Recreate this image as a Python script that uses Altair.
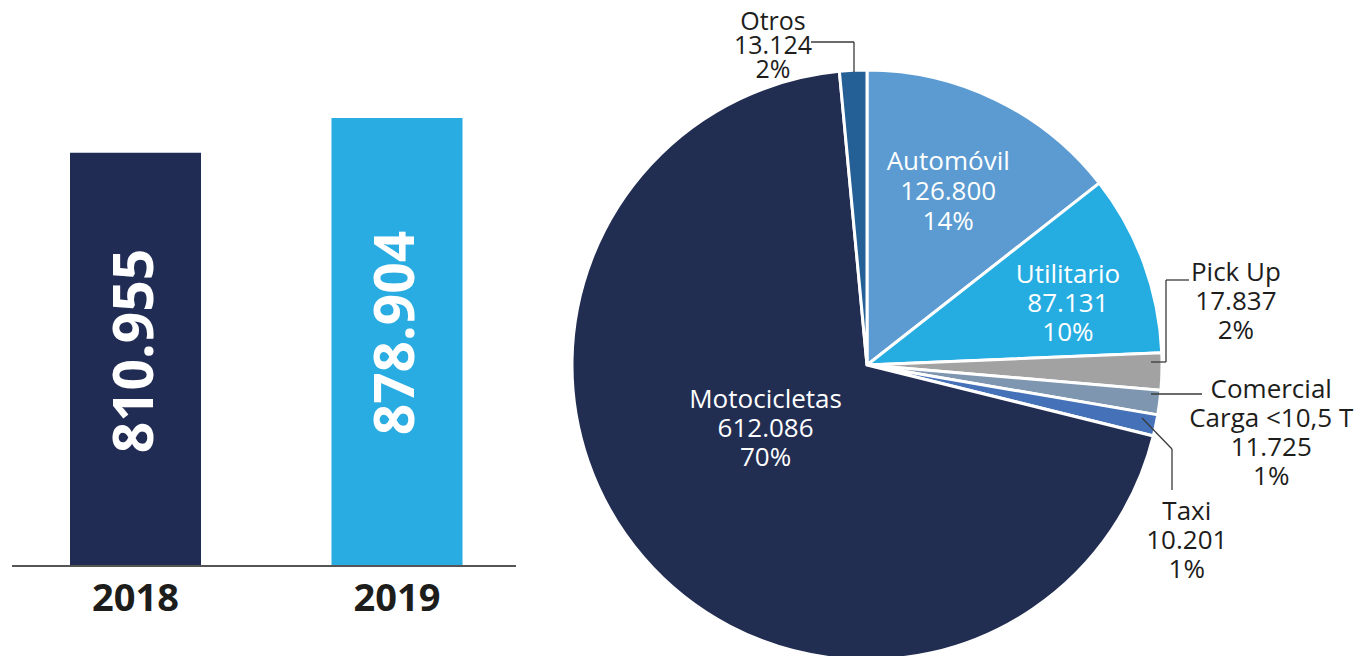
import altair as alt
import numpy as np
import pandas as pd

# ---------------- data ----------------
years = ["2018", "2019"]
year_totals = [810955, 878904]
year_colors = ["#212C55", "#29ACE2"]

categories = ["Automóvil", "Utilitario", "Pick Up", "Comercial", "Taxi", "Motocicletas", "Otros"]
display_names = ["Automóvil", "Utilitario", "Pick Up", "Comercial\nCarga <10,5 T", "Taxi", "Motocicletas", "Otros"]
cat_values = [126800, 87131, 17837, 11725, 10201, 612086, 13124]
cat_percents = [14, 10, 2, 1, 1, 70, 2]
cat_colors = ["#5B9BD1", "#25ADE2", "#A2A2A2", "#7E96B0", "#4571B9", "#222D52", "#246095"]

FONT = "Open Sans"


def fmt(v):
    return f"{v:,}".replace(",", ".")


# ---------------- bar chart ----------------
bar_df = pd.DataFrame({"year": years, "value": year_totals,
                       "label": [fmt(v) for v in year_totals]})

band = alt.Scale(range=[62, 454.5], paddingInner=0.499, paddingOuter=0)
xenc = alt.X("year:N", title=None, scale=band,
             axis=alt.Axis(labelFont=FONT, labelFontWeight="bold", labelFontSize=38,
                           labelColor="#1d1d1b", labelAngle=0, ticks=False, tickSize=0,
                           domain=False, labelPadding=14))
yscale = alt.Scale(domain=[0, 1095000])

bars = alt.Chart(bar_df).mark_bar().encode(
    x=xenc,
    y=alt.Y("value:Q", scale=yscale, axis=None),
    color=alt.Color("year:N", scale=alt.Scale(domain=years, range=year_colors), legend=None),
)

bar_text = alt.Chart(bar_df).transform_calculate(ly="datum.value*0.52").mark_text(
    angle=270, font=FONT, fontWeight="bold", fontSize=55, color="white",
    align="center", baseline="middle",
).encode(
    x=alt.X("year:N", title=None, scale=band),
    y=alt.Y("ly:Q", scale=yscale, axis=None),
    text="label:N",
)

baseline_rule = alt.Chart(pd.DataFrame({"i": [0]})).mark_rule(color="#555555", strokeWidth=2).encode(
    x=alt.value(4), x2=alt.value(508), y=alt.value(558)
)

bar_chart = alt.layer(bars, bar_text, baseline_rule).properties(width=508, height=558)

# ---------------- pie chart ----------------
vals = np.array(cat_values, dtype=float)
total = float(vals.sum())
cum = np.cumsum(vals)
pie_df = pd.DataFrame({
    "name": categories,
    "value": cat_values,
    "order": list(range(len(categories))),
    "mid": cum - vals / 2.0,
    "label": [f"{n}\n{fmt(v)}\n{p}%" for n, v, p in zip(display_names, cat_values, cat_percents)],
})

theta_scale = alt.Scale(domain=[0, total])

arcs = alt.Chart(pie_df).mark_arc(outerRadius=295, stroke="white", strokeWidth=3).encode(
    theta=alt.Theta("value:Q", stack=True, scale=theta_scale),
    order=alt.Order("order:Q", sort="ascending"),
    color=alt.Color("name:N", scale=alt.Scale(domain=categories, range=cat_colors), legend=None),
)

# label placement: radius, dx, dy (of the first line), colour, line height, font size
label_layout = {
    "Automóvil": (190, -2, -32, "white", 30, 26),
    "Utilitario": (212, 2, -17, "white", 29, 26),
    "Motocicletas": (118, -12, -42, "white", 29, 26),
    "Pick Up": (340, 29, -100, "#1d1d1b", 29, 26),
    "Comercial": (340, 67, -18, "#1d1d1b", 29, 26),
    "Taxi": (340, -13, 77, "#1d1d1b", 29, 26),
    "Otros": (320, -79, -23, "#1d1d1b", 24, 25),
}

label_layers = []
for name, (r, dx, dy, col, lh, fs) in label_layout.items():
    label_layers.append(
        alt.Chart(pie_df[pie_df["name"] == name]).mark_text(
            radius=r, dx=dx, dy=dy, font=FONT, fontSize=fs, color=col,
            lineBreak="\n", lineHeight=lh, align="center", baseline="middle",
        ).encode(
            theta=alt.Theta("mid:Q", scale=theta_scale),
            text="label:N",
        )
    )

# leader lines (annotation segments, pie-view pixel coordinates)
leader_segments = [
    (294, 34, 337, 34), (337, 34, 337, 64),                            # Otros
    (672, 272, 649, 272), (649, 272, 649, 354), (649, 354, 634, 354),  # Pick Up
    (634, 386, 685, 386),                                              # Comercial
    (625, 410, 655, 441), (655, 441, 655, 482),                        # Taxi
]
leader_layers = []
for (x1, y1, x2, y2) in leader_segments:
    leader_layers.append(
        alt.Chart(pd.DataFrame({"i": [0]})).mark_rule(color="#3a3a3a", strokeWidth=1.3).encode(
            x=alt.value(x1), y=alt.value(y1), x2=alt.value(x2), y2=alt.value(y2)
        )
    )

pie_chart = alt.layer(arcs, *label_layers, *leader_layers).properties(width=700, height=714)

chart = (
    alt.hconcat(bar_chart, pie_chart, spacing=0)
    .resolve_scale(color="independent", theta="independent")
    .properties(padding=0)
    .configure_view(stroke=None)
)

chart.save("out.html", embed_options={"renderer": "svg", "actions": False})
